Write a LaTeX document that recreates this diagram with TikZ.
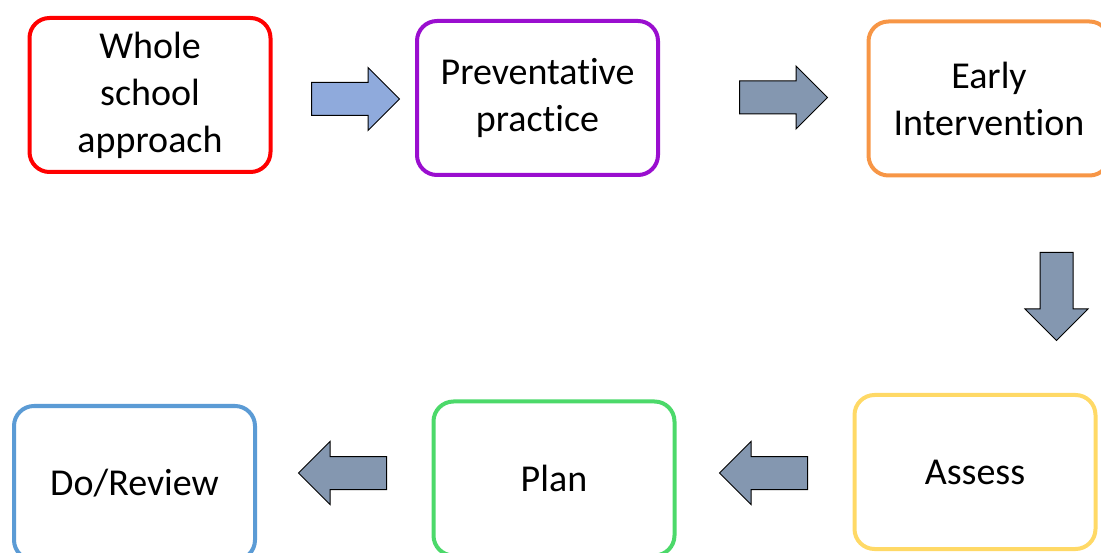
\documentclass[tikz,border=0pt]{standalone}
\usepackage{fontspec}
\setmainfont{Carlito}[Ligatures=NoCommon]
\usetikzlibrary{shapes.arrows}
\definecolor{boxred}{HTML}{FF0000}
\definecolor{boxpurple}{HTML}{9A0ECF}
\definecolor{boxorange}{HTML}{F79646}
\definecolor{boxyellow}{HTML}{FFD966}
\definecolor{boxgreen}{HTML}{4CD96A}
\definecolor{boxblue}{HTML}{5B9BD5}
\definecolor{arrowlight}{HTML}{8FAADC}
\definecolor{arrowgrey}{HTML}{8497B0}
\tikzset{
  stage/.style={draw=#1, line width=4pt, rounded corners=20pt,
    minimum width=241pt, minimum height=154pt, inner sep=0pt,
    align=center, font=\fontsize{38}{47}\selectfont},
  blockarrow/.style={single arrow, draw=black, line width=1pt, fill=#1,
    inner sep=16pt, minimum height=88pt, anchor=tail,
    single arrow head extend=15pt, single arrow head indent=0pt},
}

\begin{document}
\begin{tikzpicture}[x=1pt,y=-1pt]
\useasboundingbox (0,0) rectangle (1101,553);

% top row
\node[stage=boxred]    (whole)  at (150,95)   {Whole\\school\\approach};
\node[stage=boxpurple] (prev)   at (537.5,98) {Preventative\\practice};
\node[stage=boxorange] (early)  at (989,98.5) {Early\\Intervention};

% bottom row
\node[stage=boxyellow] (assess) at (975,472)   {Assess};
\node[stage=boxgreen]  (plan)   at (554,478.5) {Plan};
\node[stage=boxblue]   (review) at (134.5,483) {Do/Review};

% block arrows between the stages (placed by their tails)
\node[blockarrow=arrowlight]                         (a1) at (311,99)     {};
\node[blockarrow=arrowgrey]                          (a2) at (739,97.5)   {};
\node[blockarrow=arrowgrey, shape border rotate=270] (a3) at (1056.5,252) {};
\node[blockarrow=arrowgrey, shape border rotate=180] (a4) at (808,473)    {};
\node[blockarrow=arrowgrey, shape border rotate=180] (a5) at (387,473)    {};
\end{tikzpicture}
\end{document}
